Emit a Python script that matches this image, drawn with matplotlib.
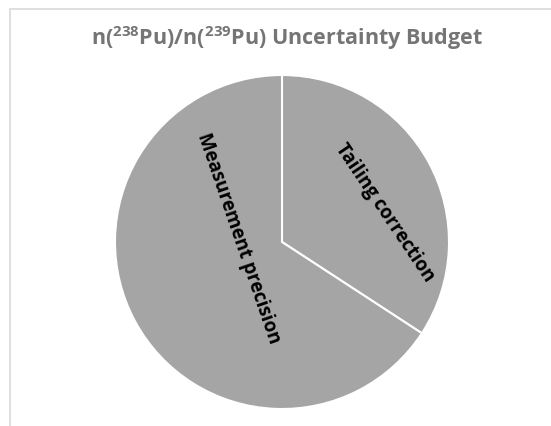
import matplotlib.pyplot as plt
from matplotlib.patches import Rectangle

# data
labels = ['Tailing correction', 'Measurement precision']
shares = [34.2, 65.8]
# label placement (pie units) and rotation
label_pos = [(0.617, 0.18), (-0.263, 0.03)]
label_rot = [-56, -71]

plt.rcParams['font.family'] = ['Open Sans', 'DejaVu Sans']
plt.rcParams['mathtext.fontset'] = 'custom'
plt.rcParams['mathtext.rm'] = 'Open Sans:bold'
plt.rcParams['mathtext.it'] = 'Open Sans:bold'
plt.rcParams['mathtext.bf'] = 'Open Sans:bold'

fig = plt.figure(figsize=(5.51, 4.27), dpi=100)

# chart area border (light grey, cut off on right and bottom)
fig.patches.append(Rectangle((9.5 / 551, -0.1), 1.2, (427 - 9.5) / 427 + 0.1,
                             transform=fig.transFigure, fill=False,
                             edgecolor='#D9D9D9', linewidth=1.2))

ax = fig.add_axes([0.2087, 0.0398, 0.6062, 0.7822])
ax.pie(shares, startangle=90, counterclock=False, colors=['#A5A5A5', '#A5A5A5'],
       wedgeprops=dict(edgecolor='white', linewidth=1.5))
ax.set_xlim(-1.0, 1.0)
ax.set_ylim(-1.0, 1.0)
ax.set_aspect('equal')

for lab, (x, y), r in zip(labels, label_pos, label_rot):
    ax.text(x, y, lab, rotation=r, ha='center', va='center', rotation_mode='anchor',
            fontsize=13.5, fontweight='bold', color='black')

fig.text(0.52, 0.911, r'n($^{238}$Pu)/n($^{239}$Pu) Uncertainty Budget',
         ha='center', va='center', fontsize=15.5, fontweight='bold', color='#757575')

fig.savefig('out.png', dpi=100)
